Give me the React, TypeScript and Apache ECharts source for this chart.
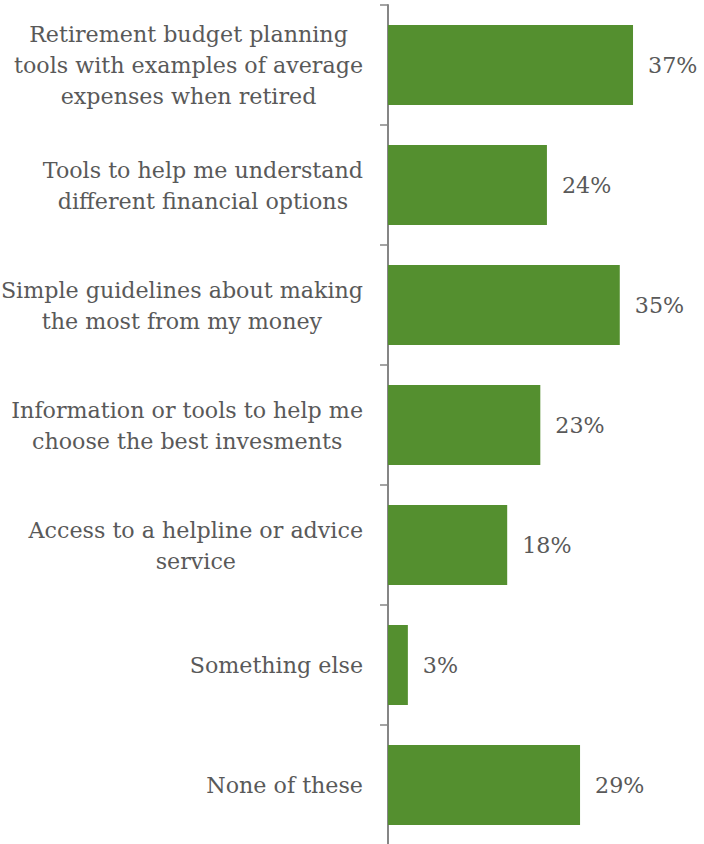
import React, { useEffect, useRef } from "react";
import * as echarts from "echarts";

const categories: string[] = [
  "Retirement budget planning\ntools with examples of average\nexpenses when retired",
  "Tools to help me understand\ndifferent financial options",
  "Simple guidelines about making\nthe most from my money",
  "Information or tools to help me\nchoose the best invesments",
  "Access to a helpline or advice\nservice",
  "Something else",
  "None of these",
];

const values: number[] = [37, 24, 35, 23, 18, 3, 29];

const FONT = "DejaVu Serif";
const TEXT_COLOR = "#595959";
const BAR_COLOR = "#548F2F";
const AXIS_COLOR = "#868686";

export default function App() {
  const ref = useRef<HTMLDivElement>(null);

  useEffect(() => {
    if (!ref.current) return;
    const chart = echarts.init(ref.current, null, { renderer: "svg" });
    chart.setOption({
      animation: false,
      backgroundColor: "#ffffff",
      grid: {
        left: 388,
        top: 5,
        width: 298,
        height: 840,
        containLabel: false,
        outerBoundsMode: "none",
      },
      xAxis: {
        type: "value",
        min: 0,
        max: 45,
        show: false,
        splitLine: { show: false },
      },
      yAxis: {
        type: "category",
        inverse: true,
        data: categories,
        axisLine: { show: true, lineStyle: { color: AXIS_COLOR, width: 2 } },
        axisTick: { show: true, length: 8, lineStyle: { color: AXIS_COLOR, width: 1.5 } },
        axisLabel: {
          margin: 25,
          formatter: (v: string) =>
            v
              .split("\n")
              .map((l) => `{c|${l}}`)
              .join("\n"),
          rich: {
            c: {
              align: "center",
              fontFamily: FONT,
              fontSize: 22.2,
              lineHeight: 31,
              color: TEXT_COLOR,
            },
          },
        },
      },
      series: [
        {
          type: "bar",
          data: values,
          barCategoryGap: "33.3%",
          itemStyle: { color: BAR_COLOR },
          label: {
            show: true,
            position: "right",
            distance: 15,
            formatter: "{c}%",
            color: TEXT_COLOR,
            fontFamily: FONT,
            fontSize: 22.2,
          },
        },
      ],
    });
    return () => chart.dispose();
  }, []);

  return (
    <div
      ref={ref}
      style={{ position: "absolute", left: 0, top: 0, width: 704, height: 844 }}
    />
  );
}
